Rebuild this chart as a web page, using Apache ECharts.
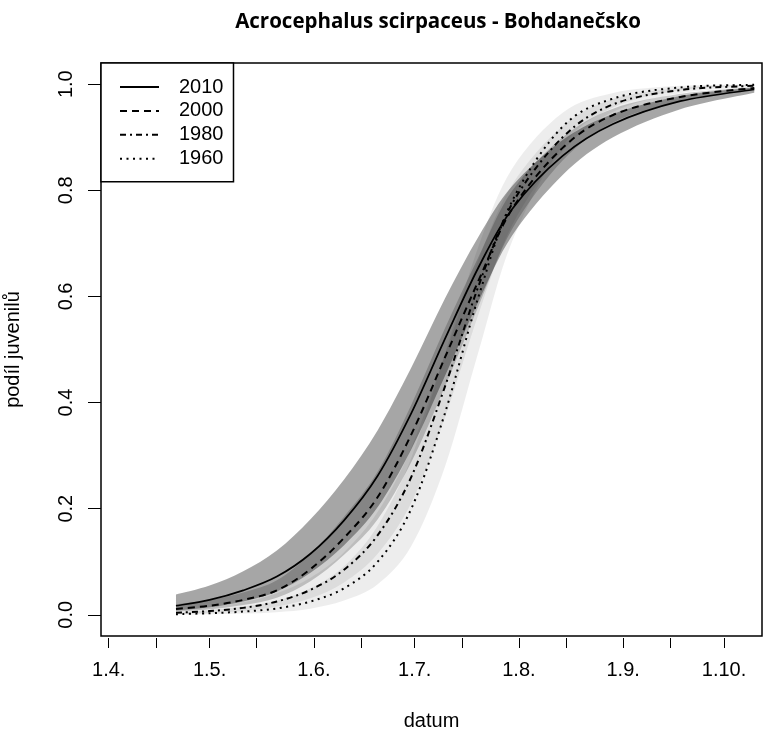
<!DOCTYPE html>
<html>
<head>
<meta charset="utf-8">
<script src="https://cdn.jsdelivr.net/npm/echarts@6/dist/echarts.min.js"></script>
<style>html,body{margin:0;padding:0;background:#fff}#c{width:769px;height:733px}</style>
</head>
<body>
<div id="c"></div>
<script>
// x = days after 1 April
const days = [20, 30, 40, 50, 60, 70, 80, 90, 100, 110, 120, 135, 150, 170, 192];

const p2010  = [0.017, 0.028, 0.046, 0.072, 0.115, 0.178, 0.262, 0.38, 0.52, 0.655, 0.765, 0.865, 0.925, 0.968, 0.99];
const lo2010 = [0.008, 0.014, 0.025, 0.044, 0.079, 0.131, 0.203, 0.312, 0.45, 0.591, 0.715, 0.829, 0.9, 0.953, 0.984];
const hi2010 = [0.038, 0.055, 0.082, 0.121, 0.18, 0.255, 0.348, 0.466, 0.596, 0.713, 0.808, 0.895, 0.944, 0.978, 0.994];

const p2000  = [0.011, 0.017, 0.028, 0.046, 0.086, 0.145, 0.222, 0.34, 0.485, 0.63, 0.765, 0.88, 0.942, 0.976, 0.993];
const lo2000 = [0.0061, 0.0103, 0.0183, 0.032, 0.063, 0.113, 0.18, 0.288, 0.43, 0.582, 0.727, 0.856, 0.928, 0.968, 0.9897];
const hi2000 = [0.0198, 0.0277, 0.042, 0.065, 0.115, 0.185, 0.27, 0.396, 0.54, 0.675, 0.799, 0.9, 0.954, 0.982, 0.995];

const p1980  = [0.004, 0.007, 0.013, 0.025, 0.047, 0.085, 0.15, 0.26, 0.43, 0.62, 0.775, 0.9, 0.962, 0.989, 0.997];
const lo1980 = [0.0016, 0.0033, 0.0072, 0.0154, 0.031, 0.061, 0.115, 0.211, 0.372, 0.567, 0.734, 0.874, 0.948, 0.983, 0.9948];
const hi1980 = [0.0098, 0.0148, 0.0234, 0.0407, 0.07, 0.118, 0.194, 0.315, 0.49, 0.67, 0.811, 0.921, 0.972, 0.9928, 0.9983];

const p1960  = [0.001, 0.003, 0.006, 0.012, 0.025, 0.05, 0.1, 0.2, 0.38, 0.6, 0.78, 0.92, 0.973, 0.994, 0.999];
const lo1960 = [0.0003, 0.001, 0.0022, 0.005, 0.0115, 0.0268, 0.0575, 0.1295, 0.279, 0.496, 0.704, 0.883, 0.956, 0.9886, 0.9976];
const hi1960 = [0.0037, 0.0089, 0.0154, 0.0263, 0.05, 0.0917, 0.168, 0.296, 0.4925, 0.695, 0.841, 0.946, 0.9835, 0.9969, 0.9996];

const tickDays = [0, 14, 30, 44, 61, 75, 91, 105, 122, 136, 153, 167, 183];
const labelDays = [0, 30, 61, 91, 122, 153, 183];
const labelTexts = ['1.4.', '1.5.', '1.6.', '1.7.', '1.8.', '1.9.', '1.10.'];
const yTicks = [0, 0.2, 0.4, 0.6, 0.8, 1.0];

const FONT = 'Liberation Sans, Arial, sans-serif';

// Catmull-Rom spline through pixel points -> cubic Bezier path segments
function cr(pts) {
  let s = '';
  for (let i = 0; i < pts.length - 1; i++) {
    const p0 = pts[i - 1] || pts[i], p1 = pts[i], p2 = pts[i + 1], p3 = pts[i + 2] || p2;
    const c1x = p1[0] + (p2[0] - p0[0]) / 6, c1y = p1[1] + (p2[1] - p0[1]) / 6;
    const c2x = p2[0] - (p3[0] - p1[0]) / 6, c2y = p2[1] - (p3[1] - p1[1]) / 6;
    s += ' C' + [c1x, c1y, c2x, c2y, p2[0], p2[1]].map(v => v.toFixed(2)).join(' ');
  }
  return s;
}
function mv(p) { return 'M' + p[0].toFixed(2) + ' ' + p[1].toFixed(2); }

function band(name, lo, hi, fill) {
  return {
    type: 'custom', name: name, coordinateSystem: 'cartesian2d', silent: true, z: 2,
    data: [[days[0], lo[0]]],
    renderItem: function (params, api) {
      const up = days.map((d, i) => api.coord([d, hi[i]]));
      const dn = days.map((d, i) => api.coord([d, lo[i]])).reverse();
      const path = mv(up[0]) + cr(up) + ' L' + dn[0][0].toFixed(2) + ' ' + dn[0][1].toFixed(2) + cr(dn) + ' Z';
      return { type: 'path', shape: { pathData: path }, style: { fill: fill, stroke: null } };
    }
  };
}

function curve(name, vals, dash, width) {
  return {
    type: 'custom', name: name, coordinateSystem: 'cartesian2d', silent: true, z: 5,
    data: [[days[0], vals[0]]],
    renderItem: function (params, api) {
      const pts = days.map((d, i) => api.coord([d, vals[i]]));
      return {
        type: 'path', shape: { pathData: mv(pts[0]) + cr(pts) },
        style: { fill: 'none', stroke: '#000', lineWidth: width, lineDash: dash, lineCap: 'butt', lineJoin: 'round' }
      };
    }
  };
}

// legend-only entries (carry the line styles shown in the legend box)
function legendEntry(name, type, width) {
  return {
    type: 'line', name: name, data: [], symbol: 'none', showSymbol: false, silent: true,
    lineStyle: { color: '#000', width: width, type: type }, itemStyle: { color: '#000' }
  };
}

const chart = echarts.init(document.getElementById('c'), null, { renderer: 'canvas' });
chart.setOption({
  animation: false,
  backgroundColor: '#fff',
  title: {
    text: 'Acrocephalus scirpaceus - Bohdanečsko',
    left: 433, top: 7, textAlign: 'center',
    textStyle: { fontFamily: 'Open Sans', fontWeight: 'bold', fontSize: 20.5, color: '#000' }
  },
  grid: {
    left: 101, right: 7, top: 63, bottom: 97, show: true,
    borderColor: '#000', borderWidth: 1.5, backgroundColor: 'transparent',
    outerBoundsMode: 'none', containLabel: false
  },
  legend: {
    data: ['2010', '2000', '1980', '1960'],
    orient: 'vertical', left: 101, top: 63,
    padding: [14, 10, 13, 18],
    itemWidth: 39, itemHeight: 20, itemGap: 3.9,
    selectedMode: false,
    borderColor: '#000', borderWidth: 1.5, backgroundColor: '#fff',
    itemStyle: { opacity: 0, borderWidth: 0 },
    textStyle: { fontFamily: FONT, fontSize: 20, color: '#000', padding: [0, 0, 0, 15] }
  },
  xAxis: {
    type: 'value', min: -2.3, max: 194.3, offset: 2,
    axisLine: { show: false, onZero: false }, splitLine: { show: false },
    axisTick: { show: true, length: 10, lineStyle: { color: '#000', width: 1 }, customValues: tickDays },
    axisLabel: {
      customValues: labelDays, margin: 22, fontFamily: FONT, fontSize: 20, color: '#000',
      formatter: v => labelTexts[labelDays.indexOf(v)]
    },
    name: 'datum', nameLocation: 'middle', nameGap: 73,
    nameTextStyle: { fontFamily: FONT, fontSize: 20, color: '#000' }
  },
  yAxis: {
    type: 'value', min: -0.04, max: 1.04,
    axisLine: { show: false, onZero: false }, splitLine: { show: false },
    axisTick: { show: true, length: 13, lineStyle: { color: '#000', width: 1 }, customValues: yTicks },
    axisLabel: {
      customValues: yTicks, rotate: 90, margin: 25, fontFamily: FONT, fontSize: 20, color: '#000',
      formatter: v => v.toFixed(1)
    },
    name: 'podíl juvenilů', nameLocation: 'middle', nameGap: 78, nameRotate: 90,
    nameTextStyle: { fontFamily: FONT, fontSize: 20, color: '#000' }
  },
  series: [
    band('b1960', lo1960, hi1960, 'rgba(0,0,0,0.07)'),
    band('b1980', lo1980, hi1980, 'rgba(0,0,0,0.07)'),
    band('b2000', lo2000, hi2000, 'rgba(0,0,0,0.2)'),
    band('b2010', lo2010, hi2010, 'rgba(0,0,0,0.35)'),
    curve('c2010', p2010, null, 1.7),
    curve('c2000', p2000, [7, 5], 2),
    curve('c1980', p1980, [6, 4, 2, 4], 2),
    curve('c1960', p1960, [2, 4.5], 2),
    legendEntry('2010', 'solid', 1.7),
    legendEntry('2000', [7, 5], 2),
    legendEntry('1980', [6, 4, 2, 4], 2),
    legendEntry('1960', [2, 4.5], 2)
  ]
});
</script>
</body>
</html>
